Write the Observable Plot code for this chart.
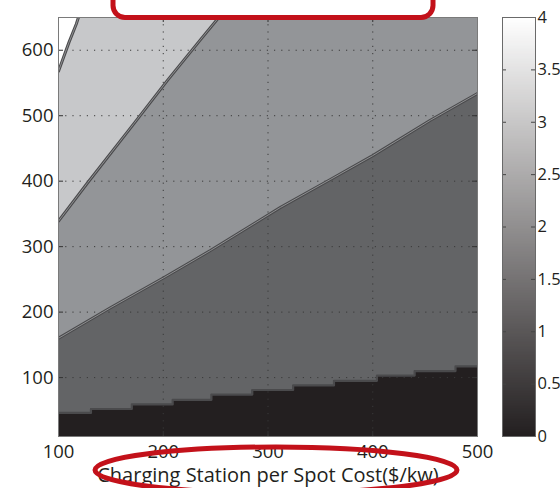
<!DOCTYPE html>
<html>
<head>
<meta charset="utf-8">
<script src="https://cdn.jsdelivr.net/npm/d3@7"></script>
<script src="https://cdn.jsdelivr.net/npm/@observablehq/plot@0.6"></script>
<style>
  body { margin: 0; background: white; }
  #wrap { position: relative; width: 560px; height: 488px; overflow: hidden; }
  #wrap > * { position: absolute; top: 0; }
  #wrap svg g[aria-label="x-axis tick label"] text,
  #wrap svg.main g[aria-label="y-axis tick label"] text { font-size: 18.5px !important; }
  #wrap svg.cbar g[aria-label="y-axis tick label"] text { font-size: 16.5px !important; }
</style>
</head>
<body>
<div id="wrap"></div>
<script>
// ---- data ----
const xTicks = [100, 200, 300, 400, 500];
const yTicks = [100, 200, 300, 400, 500, 600];
const cbTicks = [0, 0.5, 1, 1.5, 2, 2.5, 3, 3.5, 4];
const xLabel = "Charging Station per Spot Cost($/kw)";

// contour boundaries (y value of each level line at x)
const b1X = [100, 131, 170, 209, 246, 285, 324, 363, 404, 440, 479, 500];
const b1Y = [46, 52, 59, 66, 74, 81, 88, 95, 103, 110, 117, 117];
const b2X = [100, 150, 200, 245, 312, 360, 400, 455, 500];
const b2Y = [160, 207, 252, 294, 360, 403, 439, 493, 534];
const b3X = [100, 128, 172, 204, 236, 253, 500];
const b3Y = [339, 398, 488, 554, 617, 650, 650];
const b4X = [100, 110, 117, 119, 500];
const b4Y = [568, 612, 640, 650, 650];

const bandColors = ["#231f20", "#636466", "#939598", "#c7c8ca"]; // low -> high
const yMin = 10, yMax = 650;

const pts = (xs, ys) => xs.map((x, i) => ({x, y: ys[i]}));
const B1 = pts(b1X, b1Y), B2 = pts(b2X, b2Y), B3 = pts(b3X, b3Y), B4 = pts(b4X, b4Y);
const visible = (arr) => arr.filter((d, i) => d.y < yMax || (i > 0 && arr[i - 1].y < yMax));

const font = "'Open Sans', 'Noto Sans', sans-serif";

const contourLine = (data, curve) => [
  Plot.line(visible(data), {x: "x", y: "y", stroke: "#4b4b4d", strokeWidth: 3, curve, clip: true}),
  Plot.line(visible(data), {x: "x", y: "y", stroke: "#8e8f91", strokeWidth: 1, curve, clip: true})
];

const main = Plot.plot({
  width: 560, height: 488,
  marginLeft: 58, marginRight: 83, marginTop: 17, marginBottom: 52,
  className: "main",
  style: {fontFamily: font, fontSize: "18px", color: "#231f20", background: "transparent", overflow: "visible"},
  x: {domain: [100, 500], ticks: xTicks},
  y: {domain: [yMin, yMax], ticks: yTicks},
  marks: [
    Plot.frame({fill: "white"}),
    Plot.areaY(B4, {x: "x", y: "y", fill: bandColors[3], clip: true}),
    Plot.areaY(B3, {x: "x", y: "y", fill: bandColors[2], clip: true}),
    Plot.areaY(B2, {x: "x", y: "y", fill: bandColors[1], clip: true}),
    Plot.areaY(B1, {x: "x", y: "y", fill: bandColors[0], curve: "step-after", clip: true}),
    Plot.ruleX(xTicks.slice(1, -1), {stroke: "#3a3a3a", strokeDasharray: "1.2,6", strokeWidth: 1}),
    Plot.ruleY(yTicks, {stroke: "#3a3a3a", strokeDasharray: "1.2,6", strokeWidth: 1}),
    ...contourLine(B4, "linear"),
    ...contourLine(B3, "linear"),
    ...contourLine(B2, "linear"),
    Plot.line(B1, {x: "x", y: "y", stroke: "#4a4a4c", strokeWidth: 2.2, curve: "step-after", clip: true}),
    Plot.ruleY(yTicks, {stroke: "#333", insetRight: 414}),
    Plot.ruleY(yTicks, {stroke: "#333", insetLeft: 414}),
    Plot.ruleX(xTicks.slice(1, -1), {stroke: "#333", insetTop: 414}),
    Plot.ruleX(xTicks.slice(1, -1), {stroke: "#333", insetBottom: 414}),
    Plot.frame({stroke: "#7a7a7a", strokeWidth: 1}),
    Plot.axisX({ticks: xTicks, tickSize: 0, tickPadding: 8, label: null}),
    Plot.axisY({ticks: yTicks, tickSize: 0, tickPadding: 5, label: null}),
    Plot.text([xLabel], {frameAnchor: "bottom", dy: 39, lineAnchor: "middle", fontSize: 20, fill: "#231f20"})
  ]
});

const cbar = Plot.plot({
  width: 65, height: 488,
  marginLeft: 7, marginRight: 25, marginTop: 17, marginBottom: 52,
  className: "cbar",
  style: {fontFamily: font, fontSize: "16px", color: "#231f20", background: "transparent", overflow: "visible"},
  x: {domain: [0, 1], axis: null},
  y: {domain: [0, 4], ticks: cbTicks},
  color: {type: "linear", domain: [0, 4], range: ["#231f20", "#ffffff"]},
  marks: [
    Plot.raster({fill: (x, y) => y, x1: 0, x2: 1, y1: 0, y2: 4, width: 1, height: 256}),
    Plot.ruleY(cbTicks.slice(1, -1), {stroke: "#444", insetRight: 29}),
    Plot.ruleY(cbTicks.slice(1, -1), {stroke: "#444", insetLeft: 29}),
    Plot.frame({stroke: "#6a6a6a"}),
    Plot.axisY({anchor: "right", ticks: cbTicks, tickSize: 0, tickPadding: 2, label: null, tickFormat: (d) => String(d)})
  ]
});
cbar.style.left = "495px";

const wrap = document.getElementById("wrap");
wrap.appendChild(main);
wrap.appendChild(cbar);

// red annotation marks
const over = d3.create("svg").attr("width", 560).attr("height", 488).style("pointer-events", "none");
over.append("rect").attr("x", 113).attr("y", -40).attr("width", 320).attr("height", 57.5)
  .attr("rx", 12).attr("fill", "white").attr("stroke", "#c3111a").attr("stroke-width", 5);
over.append("ellipse").attr("cx", 276).attr("cy", 470).attr("rx", 181).attr("ry", 23)
  .attr("fill", "none").attr("stroke", "#c3111a").attr("stroke-width", 5);
wrap.appendChild(over.node());
</script>
</body>
</html>
